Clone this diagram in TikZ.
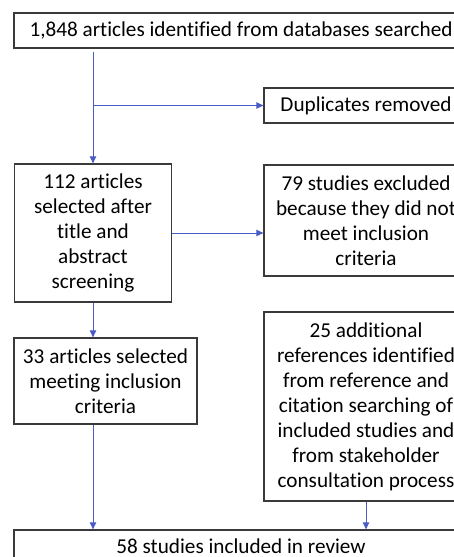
\documentclass[tikz,border=0pt]{standalone}
\usepackage{fontspec}
\setmainfont[Ligatures=NoCommon]{Carlito}
\usetikzlibrary{arrows.meta}
\definecolor{flowblue}{HTML}{4A5BC4}
\definecolor{boxline}{HTML}{3A3A3A}

\begin{document}
\begin{tikzpicture}[
  x=1pt,
  y=-1pt,
  box/.style={draw=boxline,line width=1.3pt,rectangle,inner sep=0pt,align=center,
    font=\fontsize{21.2}{25}\selectfont},
  flow/.style={draw=flowblue,line width=1pt,-{Triangle[length=7pt,width=6.5pt]}}
]
  % Page frame cut to the shown region; the right column runs past it.
  \useasboundingbox (0,0) rectangle (454,557);
  \clip (0,0) rectangle (454,557);

  % Left column of the flow.
  \node[box,minimum width=454pt,minimum height=35pt] (found) at (241,30.5)
    {1,848 articles identified from databases searched};
  \node[box,minimum width=157pt,minimum height=138pt] (screened) at (93,233)
    {112 articles\\selected after\\title and\\abstract\\screening};
  \node[box,minimum width=183pt,minimum height=86pt] (selected) at (105.5,381)
    {33 articles selected\\meeting inclusion\\criteria};
  \node[box,minimum width=454pt,minimum height=32pt] (review) at (241,546)
    {58 studies included in review};

  % Right column of the flow.
  \node[box,minimum width=204pt,minimum height=35pt] (dupes) at (366,105.5)
    {Duplicates removed};
  \node[box,minimum width=204pt,minimum height=111pt] (excluded) at (366,220.5)
    {79 studies excluded\\because they did not\\meet inclusion\\criteria};
  \node[box,minimum width=204pt,minimum height=189pt] (extra) at (366,406.5)
    {25 additional\\references identified\\from reference and\\citation searching of\\included studies and\\from stakeholder\\consultation process};

  % Connectors.
  \draw[flow,shorten <=3pt] (found.south -| screened.north) -- (screened.north);
  \draw[flow] (dupes.west -| screened.north) -- (dupes.west);
  \draw[flow] (screened.east) -- (screened.east -| excluded.west);
  \draw[flow] (screened.south) -- (screened.south |- selected.north);
  \draw[flow] (selected.south -| screened.south) -- (review.north -| screened.south);
  \draw[flow] (extra.south) -- (extra.south |- review.north);
\end{tikzpicture}
\end{document}
